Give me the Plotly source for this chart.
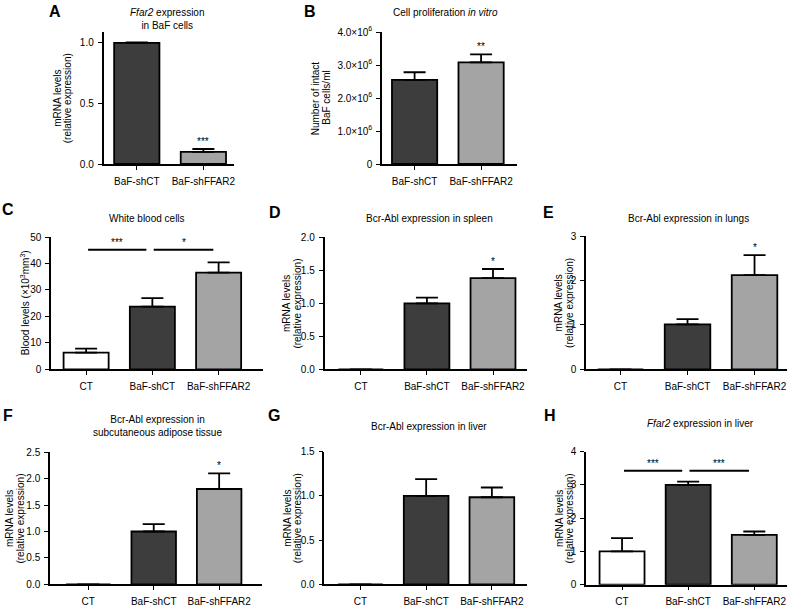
import plotly.graph_objects as go

# ---------------- data ----------------
cats2 = ["BaF-shCT", "BaF-shFFAR2"]
cats3 = ["CT", "BaF-shCT", "BaF-shFFAR2"]

a_vals = [1.0, 0.10]
a_err = [0.005, 0.024]
b_vals = [2.55e6, 3.08e6]
b_err = [0.23e6, 0.24e6]
c_vals = [6.3, 23.7, 36.5]
c_err = [1.5, 3.2, 3.9]
d_vals = [0, 1.0, 1.38]
d_err = [0, 0.085, 0.14]
e_vals = [0, 1.01, 2.12]
e_err = [0, 0.12, 0.45]
f_vals = [0, 1.0, 1.805]
f_err = [0, 0.14, 0.295]
g_vals = [0, 1.0, 0.985]
g_err = [0, 0.19, 0.11]
h_vals = [1.0, 3.0, 1.5]
h_err = [0.4, 0.1, 0.1]

# significance: single-bar marks (index, label); pairwise (i, j, label, level)
a_sig = [(1, "***")]
b_sig = [(1, "**")]
c_pairs = [(0, 1, "***", 45.2), (1, 2, "*", 45.2)]
d_sig = [(2, "*")]
e_sig = [(2, "*")]
f_sig = [(2, "*")]
h_pairs = [(0, 1, "***", 3.43), (1, 2, "***", 3.43)]

b_ticks = [0, 1e6, 2e6, 3e6, 4e6]
b_ticktext = ["0", "1.0×10<sup>6</sup>", "2.0×10<sup>6</sup>", "3.0×10<sup>6</sup>", "4.0×10<sup>6</sup>"]

# ---------------- style ----------------
W, H = 789, 606
FONT = "Liberation Sans, Arial, sans-serif"
FS = 10
WHITE, DARK, LIGHT = "#ffffff", "#3d3d3d", "#a4a4a4"
col2 = [DARK, LIGHT]
col3 = [WHITE, DARK, LIGHT]

panels = [
    dict(letter="A", lxy=(55, 11), cats=cats2, vals=a_vals, err=a_err, colors=col2,
         title="<i>Ffar2</i> expression<br>in BaF cells", txy=(167, 19),
         ylab=["mRNA levels", "(relative expression)"], yl_x=63,
         box=(103.5, 234, 32, 164), xr=[-0.5, 1.46], yr=[0, 1.09],
         yt=[0, 0.5, 1.0], ytt=["0.0", "0.5", "1.0"], sig=a_sig, pairs=[]),
    dict(letter="B", lxy=(310, 11), cats=cats2, vals=b_vals, err=b_err, colors=col2,
         title="Cell proliferation <i>in vitro</i>", txy=(445, 13),
         ylab=["Number of intact", "BaF cells/ml"], yl_x=321.5,
         box=(382, 517, 32, 164), xr=[-0.49, 1.54], yr=[0, 4e6],
         yt=b_ticks, ytt=b_ticktext, sig=b_sig, pairs=[]),
    dict(letter="C", lxy=(8, 210), cats=cats3, vals=c_vals, err=c_err, colors=col3,
         title="White blood cells", txy=(147, 218),
         ylab=["Blood levels (×10<sup>3</sup>mm<sup>3</sup>)"], yl_x=25,
         box=(51, 263, 237, 369.3), xr=[-0.53, 2.67], yr=[0, 50],
         yt=[0, 10, 20, 30, 40, 50], ytt=["0", "10", "20", "30", "40", "50"], sig=[], pairs=c_pairs),
    dict(letter="D", lxy=(275, 212), cats=cats3, vals=d_vals, err=d_err, colors=col3,
         title="Bcr-Abl expression in spleen", txy=(429, 218),
         ylab=["mRNA levels", "(relative expression)"], yl_x=292,
         box=(324.5, 526.7, 237.3, 369.3), xr=[-0.55, 2.51], yr=[0, 2],
         yt=[0, 0.5, 1.0, 1.5, 2.0], ytt=["0.0", "0.5", "1.0", "1.5", "2.0"], sig=d_sig, pairs=[]),
    dict(letter="E", lxy=(548, 212), cats=cats3, vals=e_vals, err=e_err, colors=col3,
         title="Bcr-Abl expression in lungs", txy=(688, 218),
         ylab=["mRNA levels", "(relative expression)"], yl_x=564,
         box=(586, 786.7, 236, 369.3), xr=[-0.515, 2.48], yr=[0, 3],
         yt=[0, 1, 2, 3], ytt=["0", "1", "2", "3"], sig=e_sig, pairs=[]),
    dict(letter="F", lxy=(8, 415), cats=cats3, vals=f_vals, err=f_err, colors=col3,
         title="Bcr-Abl expression in<br>subcutaneous adipose tissue", txy=(157, 426),
         ylab=["mRNA levels", "(relative expression)"], yl_x=15,
         box=(50, 261.7, 452.3, 584.3), xr=[-0.585, 2.65], yr=[0, 2.5],
         yt=[0, 0.5, 1.0, 1.5, 2.0, 2.5], ytt=["0.0", "0.5", "1.0", "1.5", "2.0", "2.5"], sig=f_sig, pairs=[]),
    dict(letter="G", lxy=(274, 415), cats=cats3, vals=g_vals, err=g_err, colors=col3,
         title="Bcr-Abl expression in liver", txy=(429, 426.5),
         ylab=["mRNA levels", "(relative expression)"], yl_x=292,
         box=(324.3, 526.7, 451.7, 584.3), xr=[-0.55, 2.53], yr=[0, 1.5],
         yt=[0, 0.5, 1.0, 1.5], ytt=["0.0", "0.5", "1.0", "1.5"], sig=[], pairs=[]),
    dict(letter="H", lxy=(550, 415), cats=cats3, vals=h_vals, err=h_err, colors=col3,
         title="<i>Ffar2</i> expression in liver", txy=(700, 423.5),
         ylab=["mRNA levels", "(relative expression)"], yl_x=564,
         box=(586, 786.7, 451.7, 584.7), xr=[-0.545, 2.49], yr=[0, 4],
         yt=[0, 1, 2, 3, 4], ytt=["0", "1", "2", "3", "4"], sig=[], pairs=h_pairs),
]

fig = go.Figure()
annotations = []
shapes = []


def px(x):
    return x / W


def py(y):
    return 1 - y / H


for i, p in enumerate(panels, start=1):
    xa = "x" if i == 1 else f"x{i}"
    ya = "y" if i == 1 else f"y{i}"
    xk = "xaxis" if i == 1 else f"xaxis{i}"
    yk = "yaxis" if i == 1 else f"yaxis{i}"
    x0, x1, y0, y1 = p["box"]
    errs = [e if e > 0 else None for e in p["err"]]
    fig.add_trace(go.Bar(
        x=p["cats"], y=p["vals"], xaxis=xa, yaxis=ya, width=0.68,
        marker=dict(color=p["colors"], line=dict(color="black", width=1.8)),
        error_y=dict(type="data", symmetric=False, array=errs,
                     arrayminus=[0] * len(errs), color="black", thickness=1.8, width=11),
        showlegend=False, hoverinfo="skip"))
    fig.layout[xk] = dict(
        domain=[px(x0), px(x1)], anchor=ya, type="category", automargin=False,
        categoryorder="array", categoryarray=p["cats"], range=p["xr"],
        showline=True, linecolor="black", linewidth=1.5, ticks="outside",
        ticklen=4, tickwidth=1.2, tickcolor="black", showgrid=False, zeroline=False,
        ticklabelstandoff=3,
        tickfont=dict(family=FONT, size=FS, color="black"), fixedrange=True)
    fig.layout[yk] = dict(
        domain=[py(y1), py(y0)], anchor=xa, range=p["yr"], automargin=False,
        tickvals=p["yt"], ticktext=p["ytt"],
        showline=True, linecolor="black", linewidth=1.5, ticks="outside",
        ticklen=4, tickwidth=1.2, tickcolor="black", showgrid=False, zeroline=False,
        ticklabelstandoff=2,
        tickfont=dict(family=FONT, size=FS, color="black"), fixedrange=True)

    # panel letter
    annotations.append(dict(text=f"<b>{p['letter']}</b>", xref="paper", yref="paper",
                            x=px(p["lxy"][0]), y=py(p["lxy"][1]), showarrow=False,
                            xanchor="center", yanchor="middle",
                            font=dict(family=FONT, size=16, color="black")))
    # title
    annotations.append(dict(text=p["title"], xref="paper", yref="paper",
                            x=px(p["txy"][0]), y=py(p["txy"][1]), showarrow=False,
                            xanchor="center", yanchor="middle",
                            font=dict(family=FONT, size=FS, color="black")))
    # y-axis title lines
    n = len(p["ylab"])
    ymid = (y0 + y1) / 2
    for k, line in enumerate(p["ylab"]):
        xoff = (k - (n - 1) / 2) * 10.5
        annotations.append(dict(text=line, xref="paper", yref="paper",
                                x=px(p["yl_x"] + xoff), y=py(ymid), textangle=-90,
                                showarrow=False, xanchor="center", yanchor="middle",
                                font=dict(family=FONT, size=FS, color="black")))
    # single-bar significance marks
    for idx, lab in p["sig"]:
        annotations.append(dict(text=lab, xref=xa, yref=ya, x=idx,
                                y=p["vals"][idx] + p["err"][idx], showarrow=False,
                                xanchor="center", yanchor="bottom",
                                font=dict(family=FONT, size=FS, color="black")))
    # pairwise comparisons
    for a, b, lab, lvl in p["pairs"]:
        xs0 = a + 0.03 if a == 0 else a + 0.02
        xs1 = b - 0.09 if a == 0 else b - 0.08
        shapes.append(dict(type="line", xref=xa, yref=ya, x0=xs0, x1=xs1, y0=lvl, y1=lvl,
                           line=dict(color="black", width=2)))
        annotations.append(dict(text=lab, xref=xa, yref=ya, x=(xs0 + xs1) / 2, y=lvl,
                                showarrow=False, xanchor="center", yanchor="bottom",
                                font=dict(family=FONT, size=FS, color="black")))

fig.update_layout(
    width=W, height=H, margin=dict(l=0, r=0, t=0, b=0, pad=0, autoexpand=False),
    paper_bgcolor="white", plot_bgcolor="white",
    bargap=0.3, annotations=annotations, shapes=shapes,
    font=dict(family=FONT, color="black"))

# remove the browser's default 8px page margin so the figure fills the window
fig.write_html("out.html", config={"displayModeBar": False},
               post_script="document.body.style.margin='0';document.body.style.overflow='hidden';")
